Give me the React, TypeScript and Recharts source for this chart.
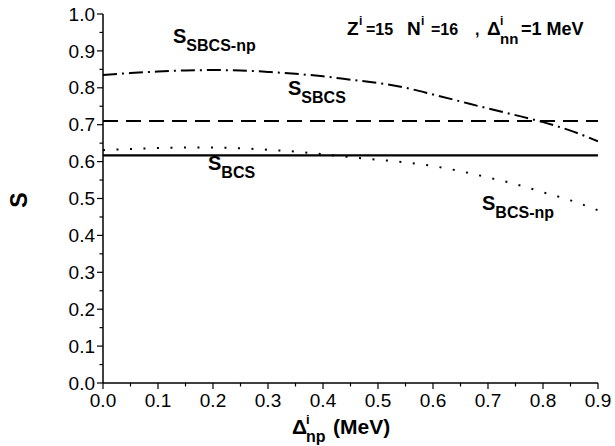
import React from 'react';
import { Line, LineChart, XAxis, YAxis } from 'recharts';

// Δ^i_np grid (MeV)
const xVals = [0, 0.05, 0.1, 0.15, 0.2, 0.25, 0.3, 0.35, 0.4, 0.45, 0.5, 0.55, 0.6, 0.65, 0.7, 0.75, 0.8, 0.85, 0.9];

// S_BCS (solid), constant
const sBcs = [0.617, 0.617, 0.617, 0.617, 0.617, 0.617, 0.617, 0.617, 0.617, 0.617, 0.617, 0.617, 0.617, 0.617, 0.617, 0.617, 0.617, 0.617, 0.617];
// S_BCS-np (dotted)
const sBcsNp = [0.631, 0.634, 0.637, 0.638, 0.638, 0.636, 0.632, 0.627, 0.62, 0.612, 0.605, 0.598, 0.588, 0.574, 0.557, 0.539, 0.517, 0.495, 0.468];
// S_SBCS (dashed), constant
const sSbcs = [0.71, 0.71, 0.71, 0.71, 0.71, 0.71, 0.71, 0.71, 0.71, 0.71, 0.71, 0.71, 0.71, 0.71, 0.71, 0.71, 0.71, 0.71, 0.71];
// S_SBCS-np (dash-dot)
const sSbcsNp = [0.835, 0.84, 0.844, 0.847, 0.848, 0.847, 0.843, 0.838, 0.831, 0.822, 0.813, 0.8, 0.782, 0.763, 0.744, 0.726, 0.707, 0.684, 0.655];

const xTicks = [0, 0.05, 0.1, 0.15, 0.2, 0.25, 0.3, 0.35, 0.4, 0.45, 0.5, 0.55, 0.6, 0.65, 0.7, 0.75, 0.8, 0.85, 0.9];
const yTicks = [0, 0.05, 0.1, 0.15, 0.2, 0.25, 0.3, 0.35, 0.4, 0.45, 0.5, 0.55, 0.6, 0.65, 0.7, 0.75, 0.8, 0.85, 0.9, 0.95, 1.0];

const data = xVals.map((x, i) => ({
  x,
  sBcs: sBcs[i],
  sBcsNp: sBcsNp[i],
  sSbcs: sSbcs[i],
  sSbcsNp: sSbcsNp[i],
}));

const FONT = '"Liberation Sans", Arial, sans-serif';
const isMajor = (v: number) => Math.round(v * 100) % 10 === 0;

function BottomTick({ x, y, payload }: any) {
  const v = payload.value as number;
  const major = isMajor(v);
  return (
    <g>
      <line x1={x} x2={x} y1={y} y2={y + (major ? 6 : 3.5)} stroke="#000" strokeWidth={1.2} />
      {major && (
        <text x={x} y={y + 24} textAnchor="middle" fontSize={19} fontFamily={FONT} fill="#000">
          {v.toFixed(1)}
        </text>
      )}
    </g>
  );
}

function TopTick({ x, y, payload }: any) {
  const major = isMajor(payload.value);
  return <line x1={x} x2={x} y1={y} y2={y - (major ? 6 : 3.5)} stroke="#000" strokeWidth={1.2} />;
}

function LeftTick({ x, y, payload }: any) {
  const v = payload.value as number;
  const major = isMajor(v);
  return (
    <g>
      <line x1={x} x2={x - (major ? 6 : 3.5)} y1={y} y2={y} stroke="#000" strokeWidth={1.2} />
      {major && (
        <text x={x - 8} y={y} dy="0.35em" textAnchor="end" fontSize={19} fontFamily={FONT} fill="#000">
          {v.toFixed(1)}
        </text>
      )}
    </g>
  );
}

function RightTick({ x, y, payload }: any) {
  const major = isMajor(payload.value);
  return <line x1={x} x2={x + (major ? 6 : 3.5)} y1={y} y2={y} stroke="#000" strokeWidth={1.2} />;
}

function SLabel({ x, y, sub }: { x: number; y: number; sub: string }) {
  return (
    <text x={x} y={y} fontFamily={FONT} fontWeight="bold" fill="#000">
      <tspan fontSize={20}>S</tspan>
      <tspan fontSize={16} dy={8}>{sub}</tspan>
    </text>
  );
}

export default function App() {
  return (
    <div style={{ position: 'absolute', left: 0, top: 0, width: 615, height: 446, background: '#fff' }}>
      <LineChart width={615} height={446} data={data} margin={{ top: 14, right: 17, bottom: 0, left: 0 }}>
        <XAxis
          dataKey="x"
          type="number"
          domain={[0, 0.9]}
          ticks={xTicks}
          interval={0}
          height={63}
          tickSize={0}
          tickMargin={0}
          tickLine={false}
          tick={BottomTick}
          axisLine={{ stroke: '#000', strokeWidth: 1.5 }}
          allowDataOverflow
        />
        <XAxis
          xAxisId="top"
          orientation="top"
          dataKey="x"
          type="number"
          domain={[0, 0.9]}
          ticks={xTicks}
          interval={0}
          height={0}
          tickSize={0}
          tickMargin={0}
          tickLine={false}
          tick={TopTick}
          axisLine={{ stroke: '#000', strokeWidth: 1.5 }}
          allowDataOverflow
        />
        <YAxis
          type="number"
          domain={[0, 1]}
          ticks={yTicks}
          interval={0}
          width={103}
          tickSize={0}
          tickMargin={0}
          tickLine={false}
          tick={LeftTick}
          axisLine={{ stroke: '#000', strokeWidth: 1.5 }}
          allowDataOverflow
        />
        <YAxis
          yAxisId="right"
          orientation="right"
          type="number"
          domain={[0, 1]}
          ticks={yTicks}
          interval={0}
          width={0}
          tickSize={0}
          tickMargin={0}
          tickLine={false}
          tick={RightTick}
          axisLine={{ stroke: '#000', strokeWidth: 1.5 }}
          allowDataOverflow
        />
        <Line type="monotone" dataKey="sSbcsNp" stroke="#000" strokeWidth={2} strokeDasharray="14 5 2 5" dot={false} isAnimationActive={false} />
        <Line type="monotone" dataKey="sSbcs" stroke="#000" strokeWidth={2} strokeDasharray="15 8" dot={false} isAnimationActive={false} />
        <Line type="monotone" dataKey="sBcsNp" stroke="#000" strokeWidth={2} strokeDasharray="2 11.5" dot={false} isAnimationActive={false} />
        <Line type="monotone" dataKey="sBcs" stroke="#000" strokeWidth={2.2} dot={false} isAnimationActive={false} />
      </LineChart>
      <svg width={615} height={446} style={{ position: 'absolute', left: 0, top: 0, pointerEvents: 'none' }}>
        <text transform="translate(27,200) rotate(-90)" textAnchor="middle" fontSize={23} fontWeight="bold" fontFamily={FONT} fill="#000">
          S
        </text>
        <g fontFamily={FONT} fontWeight="bold" fill="#000">
          <text x={292} y={434} fontSize={21}>Δ</text>
          <text x={306} y={424} fontSize={13}>i</text>
          <text x={306} y={442} fontSize={16}>np</text>
          <text x={333} y={434} fontSize={21}>(MeV)</text>
        </g>
        <g fontFamily={FONT} fontWeight="bold" fill="#000">
          <text x={347} y={35} fontSize={19}>Z</text>
          <text x={359} y={25} fontSize={12}>i</text>
          <text x={366} y={35} fontSize={16}>=15</text>
          <text x={407} y={35} fontSize={19}>N</text>
          <text x={421} y={25} fontSize={12}>i</text>
          <text x={431} y={35} fontSize={16}>=16</text>
          <text x={475} y={35} fontSize={16}>,</text>
          <text x={487} y={35} fontSize={19}>Δ</text>
          <text x={500} y={25} fontSize={12}>i</text>
          <text x={500} y={44} fontSize={15}>nn</text>
          <text x={521} y={35} fontSize={18}>=1 MeV</text>
        </g>
        <SLabel x={173} y={43} sub="SBCS-np" />
        <SLabel x={288} y={95} sub="SBCS" />
        <SLabel x={208} y={170} sub="BCS" />
        <SLabel x={482} y={210} sub="BCS-np" />
      </svg>
    </div>
  );
}
